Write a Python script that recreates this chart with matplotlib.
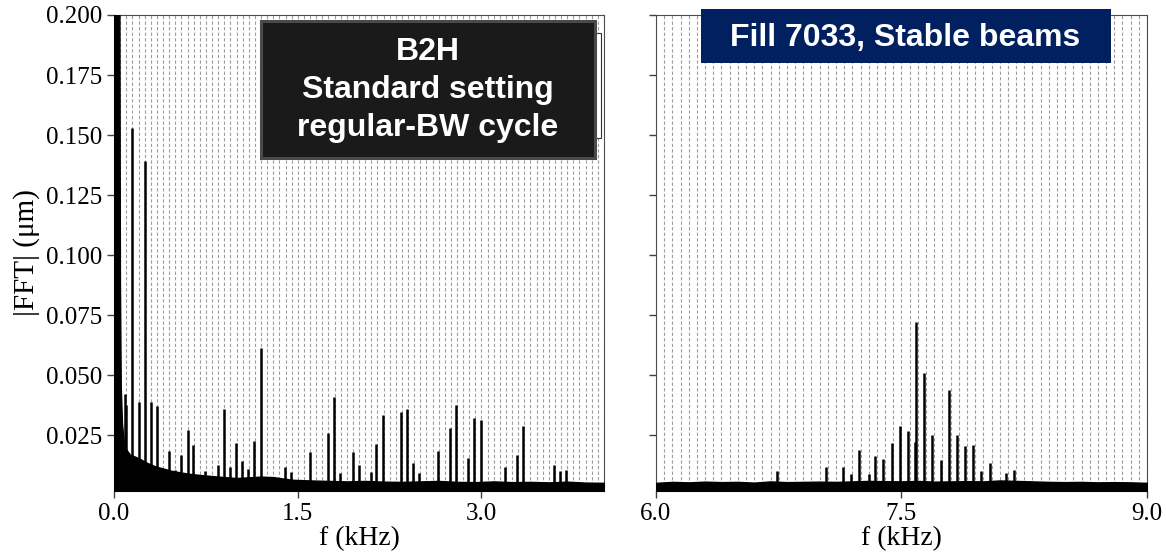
import matplotlib
matplotlib.use('Agg')
import matplotlib.pyplot as plt
from matplotlib.ticker import MultipleLocator, FixedLocator
from matplotlib.patches import Rectangle

# noise floor (upper edge of the dense FFT band)
floor_f_left = [0.0, 0.044, 0.048, 0.055, 0.065, 0.08, 0.1, 0.13, 0.2, 0.27,
                0.34, 0.4, 0.47, 0.55, 0.61, 0.68, 0.74, 0.85, 1.0, 1.1,
                1.2, 1.3, 1.45, 1.6, 1.75, 1.9, 2.05, 2.2, 2.35, 2.5,
                2.65, 2.8, 2.95, 3.1, 3.25, 3.4, 3.55, 3.7, 3.85, 4.0]
floor_v_left = [0.2, 0.2, 0.09, 0.045, 0.03, 0.022, 0.019, 0.017, 0.0155, 0.0135,
                0.012, 0.0112, 0.0102, 0.0095, 0.009, 0.0086, 0.0083, 0.0078, 0.0072, 0.0075,
                0.0078, 0.0076, 0.0065, 0.0062, 0.006, 0.0058, 0.006, 0.0057, 0.0056, 0.0058,
                0.006, 0.0056, 0.0055, 0.0058, 0.0055, 0.0056, 0.0054, 0.0057, 0.0053, 0.0052]

floor_f_right = [6.0, 6.1, 6.2, 6.3, 6.4, 6.5, 6.6, 6.7, 6.8, 6.9, 7.0,
                 7.1, 7.2, 7.3, 7.4, 7.5, 7.6, 7.7, 7.8, 7.9, 8.0,
                 8.1, 8.2, 8.3, 8.4, 8.5, 8.6, 8.7, 8.8, 8.9, 9.0]
floor_v_right = [0.0052, 0.0056, 0.0054, 0.0057, 0.0055, 0.0056, 0.0053, 0.0058, 0.0055, 0.0056, 0.0057,
                 0.0056, 0.0058, 0.006, 0.0059, 0.0058, 0.006, 0.0057, 0.0058, 0.0059, 0.0058,
                 0.0062, 0.006, 0.0058, 0.0056, 0.0055, 0.0056, 0.0054, 0.0055, 0.0054, 0.0052]

# spectral lines (kHz, um)
peak_f_left = [0.02, 0.086, 0.10, 0.15, 0.20, 0.25, 0.30, 0.347, 0.447, 0.50,
               0.55, 0.60, 0.648, 0.743, 0.846, 0.897, 0.949, 0.998, 1.044, 1.095,
               1.144, 1.196, 1.394, 1.443, 1.597, 1.746, 1.795, 1.844, 1.947, 1.996,
               2.094, 2.142, 2.194, 2.346, 2.395, 2.443, 2.49, 2.641, 2.744, 2.793,
               2.891, 2.942, 2.994, 3.19, 3.292, 3.341, 3.591, 3.64, 3.69]
peak_v_left = [0.046, 0.042, 0.0375, 0.153, 0.039, 0.139, 0.039, 0.037, 0.0185, 0.0104,
               0.017, 0.0274, 0.0211, 0.010, 0.0128, 0.0358, 0.0118, 0.0218, 0.0142, 0.0108,
               0.0225, 0.0614, 0.0118, 0.0097, 0.018, 0.026, 0.041, 0.0094, 0.0179, 0.0126,
               0.0096, 0.0215, 0.0335, 0.0346, 0.0358, 0.0136, 0.0095, 0.0183, 0.028, 0.0376,
               0.0154, 0.032, 0.0315, 0.0118, 0.017, 0.029, 0.0128, 0.0101, 0.0104]

peak_f_right = [6.737, 7.039, 7.14, 7.19, 7.238, 7.303, 7.34, 7.389, 7.44, 7.489,
                7.54, 7.58, 7.589, 7.64, 7.689, 7.739, 7.788, 7.841, 7.888, 7.939,
                7.986, 8.038, 8.138, 8.19]
peak_v_right = [0.0101, 0.0118, 0.0118, 0.009, 0.019, 0.009, 0.0164, 0.0153, 0.0218, 0.029,
                0.0268, 0.022, 0.0722, 0.051, 0.0253, 0.0149, 0.0438, 0.0253, 0.0206, 0.0211,
                0.010, 0.0136, 0.0093, 0.0104]

YMIN, YMAX = 0.0018, 0.2
SERIF = ['Liberation Serif', 'DejaVu Serif']
SANS = ['Liberation Sans', 'DejaVu Sans']

fig = plt.figure(figsize=(11.66, 5.55), dpi=100)
ax_l = fig.add_axes([0.0978, 0.1153, 0.4202, 0.8577])
ax_r = fig.add_axes([0.5626, 0.1153, 0.4211, 0.8577], sharey=ax_l)


def draw_panel(ax, ff, fv, pf, pv, xlim, xticks):
    ax.fill_between(ff, 0, fv, color='black', lw=1.0, zorder=3)
    ax.vlines(pf, 0, pv, color='black', lw=1.8, zorder=3)
    ax.set_xlim(*xlim)
    ax.xaxis.set_major_locator(FixedLocator(xticks))
    ## 50 Hz harmonics as grid
    ax.xaxis.set_minor_locator(MultipleLocator(0.05))
    ax.grid(True, which='both', axis='x', color='0.62', lw=0.8,
            linestyle=(0, (3, 2)), zorder=1)
    ax.tick_params(which='minor', length=0)
    ax.tick_params(which='major', direction='out', length=5, width=1,
                   color='0.25', labelsize=18)
    for lab in ax.get_xticklabels() + ax.get_yticklabels():
        lab.set_family(SERIF)
    for s in ax.spines.values():
        s.set_color('0.3')
    ax.set_xlabel('f (kHz)', family=SERIF, fontsize=20, labelpad=1)


draw_panel(ax_l, floor_f_left, floor_v_left, peak_f_left, peak_v_left,
           (0, 4.0), [0.0, 1.5, 3.0])
draw_panel(ax_r, floor_f_right, floor_v_right, peak_f_right, peak_v_right,
           (6.0, 9.0), [6.0, 7.5, 9.0])

ax_l.set_ylim(YMIN, YMAX)
ax_l.yaxis.set_major_locator(FixedLocator([0.025, 0.05, 0.075, 0.1, 0.125, 0.15, 0.175, 0.2]))
ax_l.yaxis.set_major_formatter(plt.FuncFormatter(lambda v, p: f'{v:.3f}'))
for lab in ax_l.get_yticklabels():
    lab.set_family(SERIF)
ax_r.tick_params(labelleft=False)
ax_l.set_ylabel('|FFT| (\u03bcm)', family=SERIF, fontsize=21, labelpad=4)

## legend frame that sits under the annotation box
ax_l.add_patch(Rectangle((0.38, 0.742), 0.614, 0.22, transform=ax_l.transAxes,
                         facecolor='white', edgecolor='0.2', lw=0.8, zorder=4))

## annotation boxes (figure pixel layout 1166 x 555)
W, H = 1166, 555
fig.patches.append(Rectangle((261 / W, 1 - 158 / H), 334 / W, 137 / H,
                             transform=fig.transFigure, facecolor='#1a1a1a',
                             edgecolor='#4a4a4a', lw=2.2, zorder=10))
for txt, ypx in [('B2H', 52), ('Standard setting', 90), ('regular-BW cycle', 128)]:
    fig.text(428 / W, 1 - ypx / H, txt, color='white', fontsize=23,
             fontweight='bold', family=SANS, ha='center', va='center', zorder=11)

fig.patches.append(Rectangle((701 / W, 1 - 63 / H), 410 / W, 54 / H,
                             transform=fig.transFigure, facecolor='#002060',
                             edgecolor='none', zorder=10))
fig.text(905 / W, 1 - 38 / H, 'Fill 7033, Stable beams', color='white', fontsize=23,
         fontweight='bold', family=SANS, ha='center', va='center', zorder=11)

fig.savefig('out.png', dpi=100)
plt.close(fig)
